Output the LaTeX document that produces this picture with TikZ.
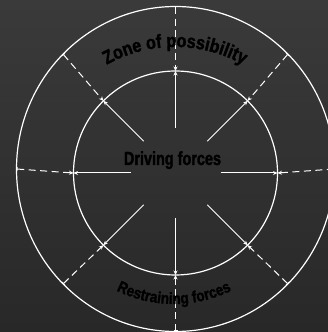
\documentclass[tikz,border=0pt]{standalone}
\usepackage{fontspec}
\setmainfont{Liberation Sans}
\newfontfamily\heavy{Liberation Sans Bold}[FakeBold=1.6, FakeStretch=0.85]
\newfontfamily\heavynarrow{Liberation Sans Bold}[FakeBold=1.6, FakeStretch=0.76]
\usepackage{xcolor}
\usetikzlibrary{arrows.meta,decorations.text}
\definecolor{bgtop}{HTML}{3A3A3A}
\definecolor{bgbot}{HTML}{282828}

\begin{document}
\begin{tikzpicture}[x=1pt, y=1pt,
  ring/.style={draw=white, line width=1.2pt},
  push/.style={-{Stealth[length=4.5pt,width=4pt]}, draw=white, line width=1pt},
  hold/.style={{Bar[width=4pt]}-{Stealth[length=4.5pt,width=4pt]}, draw=white,
    line width=1pt, dash pattern=on 7pt off 4.5pt},
  bendtext/.style={decorate, decoration={text along path, text align=center}}
]
\shade[top color=bgtop, bottom color=bgbot] (0,0) rectangle (328,332);
\useasboundingbox (0,0) rectangle (328,332);

\coordinate (hub) at (175.5,159);
\coordinate (rim) at (175.5,163);
\coordinate (upper) at (175,145);
\coordinate (lower) at (174,158);

\draw[ring] (hub) circle[radius=102pt];
\draw[ring] (rim) ellipse[x radius=159pt, y radius=162.5pt];

\foreach \a in {0,45,...,315}{
  \coordinate (s\a) at ([shift={(\a:45)}]hub);
  \coordinate (i\a) at ([shift={(\a:102)}]hub);
  \coordinate (o\a) at ([shift={({159*cos(\a)},{162.5*sin(\a)})}]rim);
  \draw[push] (s\a) -- (i\a);
  \draw[hold] (o\a) -- (i\a);
}

\node[font=\heavynarrow\fontsize{19}{19}\selectfont, anchor=base] (drive) at (172.5,167) {Driving forces};

\path[bendtext, decoration={text={|\heavy\fontsize{19}{19}\selectfont|Zone of possibility}}]
  (upper) ++(130:140) arc[start angle=130, end angle=50, radius=140];
\path[bendtext, decoration={text={|\heavy\fontsize{16}{16}\selectfont|Restraining forces}}]
  (lower) ++(230:130) arc[start angle=230, end angle=310, radius=130];

\end{tikzpicture}
\end{document}
